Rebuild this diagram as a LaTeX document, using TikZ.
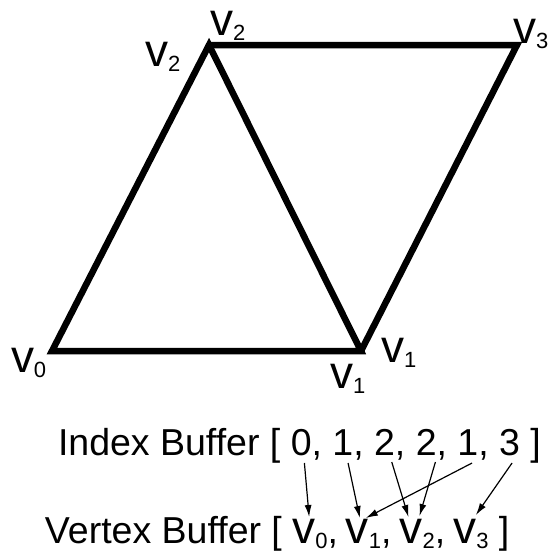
\documentclass[tikz,border=0pt]{standalone}
\usepackage{fontspec}
\setmainfont{Liberation Sans}
\usetikzlibrary{positioning}
\usetikzlibrary{arrows.meta}

\newcommand{\vtx}[1]{{\fontsize{46}{46}\selectfont v}\raisebox{-5pt}{\fontsize{22}{22}\selectfont #1}}

\begin{document}
\begin{tikzpicture}[
    x=1pt, y=-1pt,
    >={Latex[length=12pt,width=7pt]},
    node distance=10.4pt,
    edge/.style={line width=6.5pt, line join=miter},
    buf/.style={inner sep=0pt, outer sep=0pt, font=\fontsize{37.5}{40}\selectfont},
    vlab/.style={inner sep=0pt, outer sep=0pt, anchor=base west},
    ptr/.style={->, line width=1.2pt}
]
\useasboundingbox (0,0) rectangle (550,558);

% the two triangles
\coordinate (p0) at (52,351);
\coordinate (p1) at (361,351);
\coordinate (p2) at (209,45);
\coordinate (p3) at (517,45);
\draw[edge] (p0) -- (p1) -- (p2) -- cycle;
\draw[edge] (p2) -- (p3) -- (p1);

% corner labels
\node[vlab] (lv0) at (11,372) {\vtx{0}};
\node[vlab] (lv1a) at (330,388) {\vtx{1}};
\node[vlab] (lv1b) at (381,362) {\vtx{1}};
\node[vlab] (lv2a) at (145,66) {\vtx{2}};
\node[vlab] (lv2b) at (210,35) {\vtx{2}};
\node[vlab] (lv3) at (513,43) {\vtx{3}};

% index buffer
\node[buf, anchor=base west] (ibuf) at (58,455) {Index Buffer [};
\node[buf, base right=of ibuf] (i0) {0,};
\node[buf, base right=of i0] (i1) {1,};
\node[buf, base right=of i1] (i2) {2,};
\node[buf, base right=of i2] (i3) {2,};
\node[buf, base right=of i3] (i4) {1,};
\node[buf, base right=of i4] (i5) {3};
\node[buf, base right=of i5] (iend) {]};

% vertex buffer
\node[buf, anchor=base west] (vbuf) at (45,543) {Vertex Buffer [};
\node[buf, base right=of vbuf] (v0) {\vtx{0},};
\node[buf, base right=8pt of v0] (v1) {\vtx{1},};
\node[buf, base right=8pt of v1] (v2) {\vtx{2},};
\node[buf, base right=8pt of v2] (v3) {\vtx{3}};
\node[buf, base right=of v3] (vend) {]};

\draw[ptr] ([shift={(-2pt,-8pt)}]i0.base) -- ([shift={(-6pt,26pt)}]v0.base);
\draw[ptr] ([shift={(0pt,-8pt)}]i1.base) -- ([shift={(-9pt,25pt)}]v1.base);
\draw[ptr] ([shift={(2pt,-7pt)}]i2.base) -- ([shift={(-14pt,26pt)}]v2.base);
\draw[ptr] ([shift={(4pt,-7pt)}]i3.base) -- ([shift={(-3pt,27pt)}]v2.base);
\draw[ptr] ([shift={(-1pt,-8pt)}]i4.base) -- ([shift={(-3pt,25pt)}]v1.base);
\draw[ptr] ([shift={(2.5pt,-8pt)}]i5.base) -- ([shift={(5pt,28pt)}]v3.base);
\end{tikzpicture}
\end{document}
